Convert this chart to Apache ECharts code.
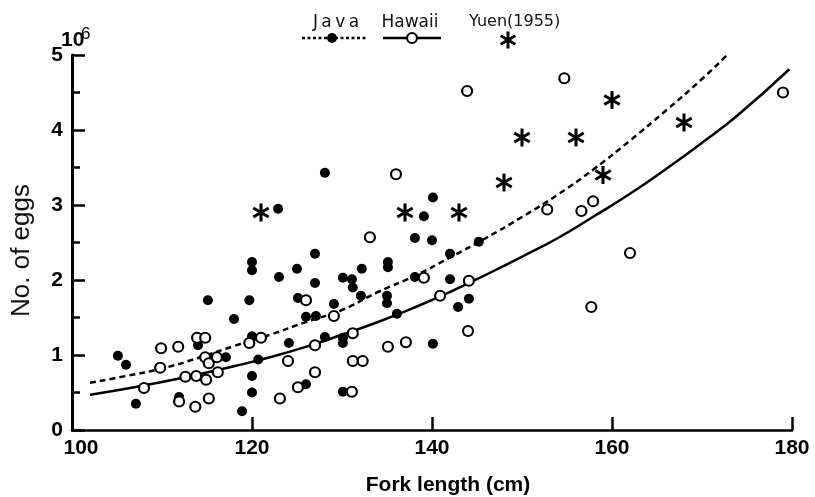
<!DOCTYPE html>
<html>
<head>
<meta charset="utf-8">
<script src="https://cdn.jsdelivr.net/npm/echarts@6/dist/echarts.min.js"></script>
<style>
  html, body { margin: 0; padding: 0; background: #fff; }
  #chart { width: 815px; height: 497px; }
</style>
</head>
<body>
<div id="chart"></div>
<script>
// Fecundity vs. fork length: Java (filled), Hawaii (open), Yuen 1955 (asterisks)
const xTicks = [100, 120, 140, 160, 180];
const yTicks = [0, 1, 2, 3, 4, 5];

const javaLength = [105.1, 106.0, 107.1, 111.9, 114.0, 115.1, 117.1, 118.0, 118.9, 119.7,
  120.0, 120.0, 120.0, 120.0, 120.0, 120.7, 122.9, 123.0, 124.1, 125.0,
  125.1, 126.0, 126.0, 127.0, 127.0, 127.1, 128.1, 128.1, 129.1, 130.1,
  130.1, 130.1, 130.1, 131.1, 131.2, 132.1, 132.2, 135.1, 135.1, 135.0,
  135.0, 136.1, 138.1, 138.1, 139.1, 140.0, 140.1, 140.1, 142.0, 142.0,
  142.9, 144.1, 145.2];
const javaEggs = [0.99, 0.87, 0.35, 0.44, 1.13, 1.73, 0.97, 1.48, 0.25, 1.73,
  2.24, 2.13, 1.25, 0.72, 0.50, 0.94, 2.95, 2.04, 1.16, 2.15,
  1.76, 1.51, 0.61, 2.35, 1.96, 1.52, 3.43, 1.24, 1.68, 2.03,
  1.23, 1.16, 0.51, 2.01, 1.90, 1.79, 2.15, 2.24, 2.17, 1.79,
  1.69, 1.55, 2.56, 2.04, 2.85, 2.53, 3.10, 1.15, 2.35, 2.01,
  1.64, 1.75, 2.51];

const hawaiiLength = [108.0, 109.8, 109.9, 111.8, 111.9, 112.6, 113.7, 113.8, 113.9, 114.8,
  114.8, 114.9, 115.2, 115.2, 116.1, 116.2, 119.7, 121.0, 123.1, 124.0,
  125.1, 126.0, 127.0, 127.0, 129.1, 131.1, 131.2, 131.2, 132.3, 133.1,
  135.1, 136.0, 137.1, 139.1, 140.9, 143.9, 144.0, 144.1, 152.8, 154.7,
  156.6, 157.9, 157.7, 162.0, 179.0];
const hawaiiEggs = [0.56, 0.83, 1.09, 1.11, 0.38, 0.71, 0.31, 0.72, 1.23, 1.23,
  0.97, 0.67, 0.89, 0.42, 0.97, 0.77, 1.16, 1.23, 0.42, 0.92,
  0.57, 1.73, 1.13, 0.77, 1.52, 0.51, 1.29, 0.92, 0.92, 2.57,
  1.11, 3.41, 1.17, 2.03, 1.79, 4.52, 1.32, 1.99, 2.94, 4.69,
  2.92, 3.05, 1.64, 2.36, 4.50];

const yuenLength = [121.0, 137.0, 143.0, 148.0, 150.0, 156.0, 159.0, 160.0, 168.0];
const yuenEggs = [2.90, 2.90, 2.90, 3.30, 3.90, 3.90, 3.40, 4.40, 4.10];

// fitted curves
const javaFitX = [102, 106, 110, 114, 118, 122, 126, 130, 134, 138, 142, 146, 150, 154, 158, 162, 166, 170, 172.7];
const javaFitY = [0.63, 0.72, 0.82, 0.96, 1.12, 1.27, 1.44, 1.60, 1.84, 2.05, 2.30, 2.56, 2.84, 3.14, 3.48, 3.86, 4.26, 4.68, 4.99];
const hawaiiFitX = [102, 106, 110, 114, 118, 122, 126, 130, 134, 138, 142, 146, 150, 154, 158, 162, 166, 170, 174, 179.7];
const hawaiiFitY = [0.47, 0.55, 0.64, 0.74, 0.85, 0.97, 1.11, 1.27, 1.44, 1.63, 1.84, 2.07, 2.31, 2.56, 2.85, 3.15, 3.48, 3.83, 4.20, 4.81];

const pairs = (xs, ys) => xs.map((x, i) => [x, ys[i]]);

// six-armed asterisk built from three bars
const STAR = 'M-17,-100L17,-100L17,100L-17,100Z M78,64L-95,-36L-78,-64L95,36Z M-95,36L78,-64L95,-36L-78,64Z';
const tickFont = '"Liberation Sans", Arial, sans-serif';
const legendFont = '"DejaVu Sans", sans-serif';

// legend asterisk as three short strokes
function starGlyph(cx, cy, r) {
  return [90, 30, 150].map(a => {
    const dx = r * Math.cos(a * Math.PI / 180), dy = r * Math.sin(a * Math.PI / 180);
    return { type: 'line', shape: { x1: cx - dx, y1: cy - dy, x2: cx + dx, y2: cy + dy }, style: { stroke: '#000', lineWidth: 3 } };
  });
}

// split lines stay "on" but invisible, so the axis lines keep rendering
const hiddenSplit = { show: true, lineStyle: { color: 'rgba(0,0,0,0)', opacity: 0 } };

const chart = echarts.init(document.getElementById('chart'), null, { renderer: 'canvas' });

chart.setOption({
  backgroundColor: '#fff',
  animation: false,
  grid: { left: 72, right: 23, top: 55, bottom: 67, containLabel: false, outerBoundsMode: 'none' },
  xAxis: {
    type: 'value',
    min: xTicks[0],
    max: xTicks[xTicks.length - 1],
    interval: 20,
    splitLine: hiddenSplit,
    axisLine: { show: true, onZero: false, lineStyle: { color: '#000', width: 2.5 } },
    axisTick: { show: true, inside: true, length: 13, lineStyle: { color: '#000', width: 2.5 } },
    axisLabel: {
      color: '#000', fontFamily: tickFont, fontWeight: 'bold', fontSize: 21, margin: 8,
      formatter: v => v === 100 ? '{first|100}' : String(v),
      rich: { first: { padding: [0, 0, 0, 18], fontFamily: tickFont, fontWeight: 'bold', fontSize: 21, color: '#000' } }
    },
    name: 'Fork length (cm)',
    nameLocation: 'middle',
    nameGap: 45,
    nameTextStyle: { color: '#000', fontFamily: tickFont, fontWeight: 'bold', fontSize: 21, padding: [0, 0, 0, 32] }
  },
  yAxis: {
    type: 'value',
    min: yTicks[0],
    max: yTicks[yTicks.length - 1],
    interval: 1,
    splitLine: hiddenSplit,
    axisLine: { show: true, onZero: false, lineStyle: { color: '#000', width: 3 } },
    axisTick: { show: true, inside: true, length: 13, lineStyle: { color: '#000', width: 2.5 } },
    minorTick: { show: true, splitNumber: 2, length: 8, lineStyle: { color: '#000', width: 2.5 } },
    axisLabel: { color: '#000', fontFamily: tickFont, fontWeight: 'bold', fontSize: 21, margin: 9 },
    name: 'No. of eggs',
    nameLocation: 'middle',
    nameGap: 37,
    nameRotate: 90,
    nameTextStyle: { color: '#111', fontFamily: tickFont, fontSize: 26, padding: [0, 16, 0, 0] }
  },
  graphic: [
    // exponent above the y axis
    { type: 'text', x: 61, y: 30, style: { text: '10', font: 'bold 21px ' + tickFont, fill: '#000' } },
    { type: 'text', x: 81, y: 26, style: { text: '6', font: '17px ' + tickFont, fill: '#000' } },
    // legend: Java
    { type: 'text', x: 336, y: 23, style: { text: 'J\u2009a\u2009v\u2009a', font: '17px ' + legendFont, fill: '#111', align: 'center', verticalAlign: 'middle' } },
    { type: 'line', shape: { x1: 302, y1: 38, x2: 366, y2: 38 }, style: { stroke: '#000', lineWidth: 2.5, lineDash: [3, 2.5] } },
    { type: 'circle', shape: { cx: 332, cy: 38, r: 5 }, style: { fill: '#000' } },
    // legend: Hawaii
    { type: 'text', x: 410, y: 23, style: { text: 'Hawaii', font: '17px ' + legendFont, fill: '#111', align: 'center', verticalAlign: 'middle' } },
    { type: 'line', shape: { x1: 383, y1: 38, x2: 441, y2: 38 }, style: { stroke: '#000', lineWidth: 2.5 } },
    { type: 'circle', shape: { cx: 412, cy: 38, r: 5 }, style: { fill: '#fff', stroke: '#000', lineWidth: 2.2 } },
    // legend: Yuen (1955)
    { type: 'text', x: 469, y: 22, style: { text: 'Yuen(1955)', font: '16px ' + legendFont, fill: '#111', align: 'left', verticalAlign: 'middle' } },
    ...starGlyph(508, 40, 8.5)
  ],
  series: [
    {
      name: 'Java fit', type: 'line', data: pairs(javaFitX, javaFitY), smooth: true,
      showSymbol: false, symbol: 'none', z: 1,
      lineStyle: { color: '#000', width: 2.5, type: [6, 4] }
    },
    {
      name: 'Hawaii fit', type: 'line', data: pairs(hawaiiFitX, hawaiiFitY), smooth: true,
      showSymbol: false, symbol: 'none', z: 1,
      lineStyle: { color: '#000', width: 2.5 }
    },
    {
      name: 'Java', type: 'scatter', data: pairs(javaLength, javaEggs), z: 3,
      symbol: 'circle', symbolSize: 10, itemStyle: { color: '#000', opacity: 1 }
    },
    {
      name: 'Hawaii', type: 'scatter', data: pairs(hawaiiLength, hawaiiEggs), z: 4,
      symbol: 'circle', symbolSize: 10, itemStyle: { color: '#fff', borderColor: '#000', borderWidth: 2.2, opacity: 1 }
    },
    {
      name: 'Yuen (1955)', type: 'scatter', data: pairs(yuenLength, yuenEggs), z: 4,
      symbol: 'path://' + STAR, symbolSize: [17, 18], itemStyle: { color: '#000', opacity: 1 }
    }
  ]
});
</script>
</body>
</html>
